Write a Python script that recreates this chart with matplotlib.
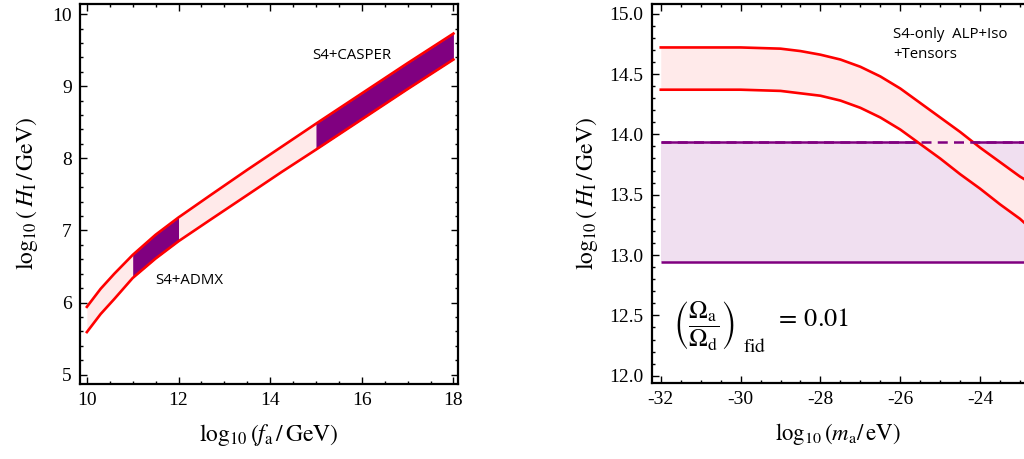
#!/usr/bin/env python3
import matplotlib
matplotlib.use("Agg")
import matplotlib.pyplot as plt
import numpy as np
from matplotlib.ticker import MultipleLocator, FormatStrFormatter

plt.rcParams["font.family"] = "Liberation Serif"
plt.rcParams["mathtext.fontset"] = "stix"
plt.rcParams["axes.unicode_minus"] = False

# left panel: band in (log10 f_a, log10 H_I)
fa = np.array([10.0, 10.3, 10.6, 11.0, 11.5, 12.0, 12.7, 13.5, 14.25, 15.0, 16.0, 17.0, 18.0])
hi_upper = np.array([5.94, 6.19, 6.40, 6.66, 6.94, 7.18, 7.49, 7.84, 8.16, 8.48, 8.90, 9.32, 9.73])
hi_lower = np.array([5.59, 5.84, 6.05, 6.34, 6.61, 6.85, 7.15, 7.49, 7.81, 8.12, 8.54, 8.96, 9.37])
admx_range = (11.0, 12.0)
casper_range = (15.0, 18.0)

# right panel: band in (log10 m_a, log10 H_I)
ma = np.array([-32.0, -31.0, -30.0, -29.0, -28.5, -28.0, -27.5, -27.0, -26.5, -26.0,
               -25.5, -25.0, -24.5, -24.0, -23.5, -23.0, -22.9])
hm_upper = np.array([14.72, 14.72, 14.72, 14.71, 14.69, 14.66, 14.62, 14.56, 14.48, 14.38,
                     14.26, 14.14, 14.02, 13.89, 13.77, 13.65, 13.63])
hm_lower = np.array([14.37, 14.37, 14.37, 14.36, 14.34, 14.32, 14.28, 14.22, 14.14, 14.04,
                     13.92, 13.80, 13.67, 13.55, 13.42, 13.30, 13.27])
tensor_low = 12.94
tensor_high = 13.94

RED = "#ff0000"
PINK = "#ffeaea"
PURPLE = "#800080"
LILAC = "#f0dff0"


def style_axes(ax, right=True):
    ax.tick_params(which="both", direction="in", top=True, right=right,
                   labelsize=14, width=1)
    ax.tick_params(which="major", length=5, pad=6)
    ax.tick_params(which="minor", length=2.5)
    for s in ax.spines.values():
        s.set_linewidth(1.6)


fig = plt.figure(figsize=(10.24, 4.59), dpi=100)

# ---- left ----
ax1 = fig.add_axes([80 / 1024, 1 - 384 / 459, 378 / 1024, 380 / 459])
ax1.fill_between(fa, hi_lower, hi_upper, color=PINK, lw=0, zorder=1)
for lo, hi in (admx_range, casper_range):
    m = (fa >= lo) & (fa <= hi)
    ax1.fill_between(fa, hi_lower, hi_upper, where=m, color=PURPLE, lw=0, zorder=2)
ax1.plot(fa, hi_upper, color=RED, lw=1.9, zorder=3)
ax1.plot(fa, hi_lower, color=RED, lw=1.9, zorder=3)
ax1.set_xlim(9.85, 18.1)
ax1.set_ylim(4.87, 10.14)
ax1.xaxis.set_major_locator(MultipleLocator(2))
ax1.xaxis.set_minor_locator(MultipleLocator(0.5))
ax1.yaxis.set_major_locator(MultipleLocator(1))
ax1.yaxis.set_minor_locator(MultipleLocator(0.2))
style_axes(ax1)
ax1.set_xlabel(r"$\log_{10}(f_{\rm a}\,/\,{\rm GeV})$", fontsize=17, labelpad=9)
ax1.set_ylabel(r"$\log_{10}(\;H_{\rm I}\,/\,{\rm GeV})$", fontsize=17, labelpad=9)
ax1.text(14.92, 9.42, "S4+CASPER", family="Open Sans", fontsize=10.8, ha="left", va="center")
ax1.text(11.49, 6.30, "S4+ADMX", family="Open Sans", fontsize=10.8, ha="left", va="center")

# ---- right ----
ax2 = fig.add_axes([652 / 1024, 1 - 383 / 459, 372 / 1024, 379 / 459])
ax2.axhspan(tensor_low, tensor_high, xmin=(-32 + 32.22) / 9.32, color=LILAC, lw=0, zorder=1)
ax2.hlines([tensor_low, tensor_high], -32, -22.9, color=PURPLE, lw=1.8, zorder=2)
ax2.fill_between(ma, hm_lower, hm_upper, color=PINK, lw=0, zorder=3)
ax2.plot(ma, hm_upper, color=RED, lw=1.9, zorder=4)
ax2.plot(ma, hm_lower, color=RED, lw=1.9, zorder=4)
ax2.hlines(tensor_high, -32, -22.9, color=PURPLE, lw=1.8, linestyles=(0, (4, 2.5)), zorder=5)
ax2.set_xlim(-32.22, -22.9)
ax2.set_ylim(11.94, 15.08)
ax2.spines["right"].set_visible(False)
ax2.xaxis.set_major_locator(MultipleLocator(2))
ax2.xaxis.set_minor_locator(MultipleLocator(0.5))
ax2.yaxis.set_major_locator(MultipleLocator(0.5))
ax2.yaxis.set_minor_locator(MultipleLocator(0.1))
ax2.yaxis.set_major_formatter(FormatStrFormatter("%.1f"))
ax2.xaxis.set_major_formatter(FormatStrFormatter("%d"))
style_axes(ax2, right=False)
ax2.set_xlabel(r"$\log_{10}(m_{\rm a}/\,{\rm eV})$", fontsize=16.5, labelpad=9)
ax2.set_ylabel(r"$\log_{10}(\;H_{\rm I}\,/\,{\rm GeV})$", fontsize=17, labelpad=7)
ax2.text(-26.18, 14.89, "S4-only  ALP+Iso\n+Tensors", family="Open Sans", fontsize=10.8,
         ha="left", va="top", linespacing=1.45)
# (Omega_a / Omega_d)_fid = 0.01, built from three pieces so "fid" sits low
ax2.text(-31.7, 12.42, r"$\left(\dfrac{\Omega_{\rm a}}{\Omega_{\rm d}}\right)$",
         fontsize=18, ha="left", va="center")
ax2.text(-29.93, 12.24, r"$\rm fid$", fontsize=14, ha="left", va="center")
ax2.text(-29.15, 12.46, r"$=\,0.01$", fontsize=19, ha="left", va="center")

fig.savefig("out.png", dpi=100)
